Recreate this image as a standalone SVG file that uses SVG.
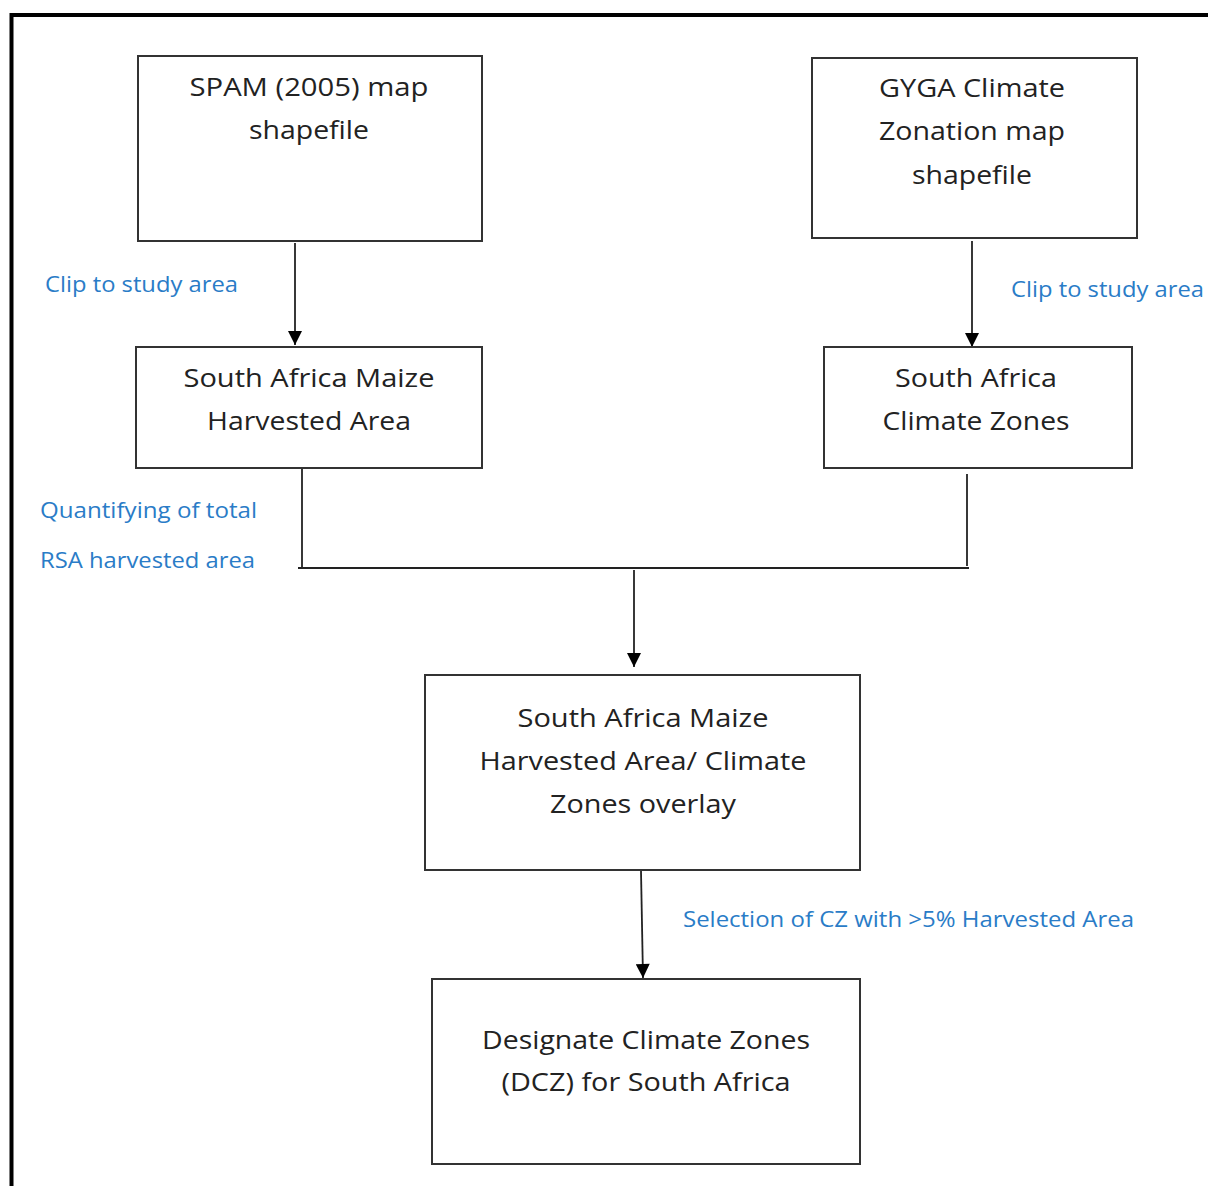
<svg xmlns="http://www.w3.org/2000/svg" width="1208" height="1186" viewBox="0 0 1208 1186">
<style>
.box{fill:#fff;stroke:#333;stroke-width:2}
.t{font-family:"Open Sans","Liberation Sans",sans-serif;font-size:26px;fill:#222;text-anchor:middle}
.l{font-family:"Open Sans","Liberation Sans",sans-serif;font-size:21px;fill:#2a7cc7}
.c{stroke:#222;stroke-width:1.8;fill:none}
</style>
<defs>
<marker id="ahb" viewBox="0 0 10 10" refX="10" refY="5" markerWidth="16" markerHeight="14" markerUnits="userSpaceOnUse" orient="auto">
<path d="M0,0 L10,5 L0,10 Z" fill="#000"/>
</marker>
</defs>
<rect width="1208" height="1186" fill="#fff"/>
<path d="M11.5,1186 V15 H1208" stroke="#000" stroke-width="4" fill="none"/>
<g id="connectors">
<path class="c" d="M295,243 V345" marker-end="url(#ahb)"/>
<path class="c" d="M972,241 V347" marker-end="url(#ahb)"/>
<path class="c" d="M302,469 V568"/>
<path class="c" d="M967,474 V566"/>
<path class="c" d="M298,568 H969"/>
<path class="c" d="M634,570 V667" marker-end="url(#ahb)"/>
<path class="c" d="M641,871 L643,978" marker-end="url(#ahb)"/>
</g>
<g id="spam">
<rect class="box" x="138" y="56" width="344" height="185"/>
<text class="t" x="309" y="96" textLength="239" lengthAdjust="spacingAndGlyphs">SPAM (2005) map</text>
<text class="t" x="309" y="139" textLength="120" lengthAdjust="spacingAndGlyphs">shapefile</text>
</g>
<g id="gyga">
<rect class="box" x="812" y="58" width="325" height="180"/>
<text class="t" x="972" y="97" textLength="186" lengthAdjust="spacingAndGlyphs">GYGA Climate</text>
<text class="t" x="972" y="140" textLength="186" lengthAdjust="spacingAndGlyphs">Zonation map</text>
<text class="t" x="972" y="184" textLength="120" lengthAdjust="spacingAndGlyphs">shapefile</text>
</g>
<g id="samaize">
<rect class="box" x="136" y="347" width="346" height="121"/>
<text class="t" x="309" y="387" textLength="251" lengthAdjust="spacingAndGlyphs">South Africa Maize</text>
<text class="t" x="309" y="430" textLength="204" lengthAdjust="spacingAndGlyphs">Harvested Area</text>
</g>
<g id="saclimate">
<rect class="box" x="824" y="347" width="308" height="121"/>
<text class="t" x="976" y="387" textLength="162" lengthAdjust="spacingAndGlyphs">South Africa</text>
<text class="t" x="976" y="430" textLength="187" lengthAdjust="spacingAndGlyphs">Climate Zones</text>
</g>
<g id="overlay">
<rect class="box" x="425" y="675" width="435" height="195"/>
<text class="t" x="643" y="727" textLength="251" lengthAdjust="spacingAndGlyphs">South Africa Maize</text>
<text class="t" x="643" y="770" textLength="327" lengthAdjust="spacingAndGlyphs">Harvested Area/ Climate</text>
<text class="t" x="643" y="813" textLength="186" lengthAdjust="spacingAndGlyphs">Zones overlay</text>
</g>
<g id="dcz">
<rect class="box" x="432" y="979" width="428" height="185"/>
<text class="t" x="646" y="1049" textLength="328" lengthAdjust="spacingAndGlyphs">Designate Climate Zones</text>
<text class="t" x="646" y="1091" textLength="289" lengthAdjust="spacingAndGlyphs">(DCZ) for South Africa</text>
</g>
<g id="labels">
<text class="l" x="45" y="292" textLength="193" lengthAdjust="spacingAndGlyphs">Clip to study area</text>
<text class="l" x="1011" y="297" textLength="193" lengthAdjust="spacingAndGlyphs">Clip to study area</text>
<text class="l" x="40" y="518" textLength="217" lengthAdjust="spacingAndGlyphs">Quantifying of total</text>
<text class="l" x="40" y="568" textLength="215" lengthAdjust="spacingAndGlyphs">RSA harvested area</text>
<text class="l" x="683" y="927" textLength="451" lengthAdjust="spacingAndGlyphs">Selection of CZ with &gt;5% Harvested Area</text>
</g>
</svg>
